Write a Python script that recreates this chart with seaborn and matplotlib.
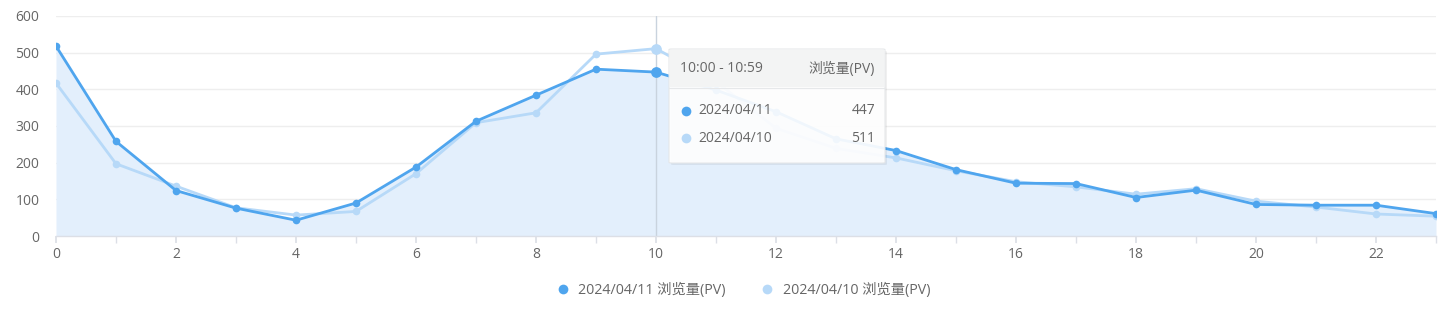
import numpy as np
import pandas as pd
import matplotlib
matplotlib.use("Agg")
import matplotlib.pyplot as plt
import seaborn as sns
from matplotlib.lines import Line2D
from matplotlib.patches import FancyBboxPatch, Rectangle

hours = list(range(24))
pv_0411 = [518, 258, 124, 76, 43, 90, 188, 313, 384, 455, 447, 398,
           339, 265, 233, 181, 144, 143, 105, 125, 86, 84, 84, 61]
pv_0410 = [417, 197, 136, 77, 57, 67, 170, 309, 336, 496, 511, 421,
           294, 239, 213, 178, 148, 134, 114, 129, 95, 79, 60, 54]
series_names = ["2024/04/11", "2024/04/10"]
metric = "浏览量(PV)"
hover_hour = 10
hover_label = "10:00 - 10:59"
y_ticks = [0, 100, 200, 300, 400, 500, 600]
x_ticks = list(range(0, 23, 2))

C1 = "#4fa5ee"
C2 = "#b7d9f8"
FILL = "#e3effc"
TXT = "#666666"
FS = 10

sns.set_theme(style="white")
plt.rcParams['font.family'] = ['Open Sans', 'Noto Sans CJK SC', 'DejaVu Sans']

df = pd.DataFrame({
    "hour": hours * 2,
    "pv": pv_0411 + pv_0410,
    "series": [series_names[0]] * 24 + [series_names[1]] * 24,
})

fig = plt.figure(figsize=(14.52, 3.11), dpi=100)
ax = fig.add_axes([56/1452, 1-236/311, (1436-56)/1452, 220/311])

ax.fill_between(hours, pv_0411, 0, color=FILL, zorder=1, linewidth=0)
# crosshair
ax.axvline(hover_hour, color="#c9d3de", lw=1, zorder=1.5)

sns.lineplot(data=df, x="hour", y="pv", hue="series",
             palette={series_names[0]: C1, series_names[1]: C2},
             hue_order=series_names[::-1], marker="o", markersize=5.5,
             markeredgewidth=0, linewidth=2, ax=ax, legend=False, zorder=3)
# highlighted hover points
ax.scatter([hover_hour], [pv_0410[hover_hour]], s=60, color=C2, zorder=4, linewidths=0)
ax.scatter([hover_hour], [pv_0411[hover_hour]], s=60, color=C1, zorder=4, linewidths=0)

ax.set_xlim(0, 23)
ax.set_ylim(0, 600)
ax.set_yticks(y_ticks)
ax.set_xticks(x_ticks)
ax.set_xticks(hours, minor=True)
ax.set_xlabel("")
ax.set_ylabel("")
ax.grid(axis="y", color="#eeeeee", lw=1)
ax.set_axisbelow(True)
for s in ["top", "right", "left"]:
    ax.spines[s].set_visible(False)
ax.spines["bottom"].set_color("#dcdfe6")
ax.spines["bottom"].set_linewidth(1)
ax.tick_params(axis="y", length=0, labelsize=FS, labelcolor=TXT, pad=12)
ax.tick_params(axis="x", which="both", length=5, color="#dcdfe6", labelsize=FS,
               labelcolor=TXT, pad=3, bottom=True)

# tooltip
W, H = 1452, 311
def fx(px): return px / W
def fy(py): return 1 - py / H
shadow = FancyBboxPatch((fx(671), fy(165)), fx(885-669), (163-49)/H,
                        boxstyle="round,pad=0,rounding_size=0.002",
                        transform=fig.transFigure, facecolor="#000000", alpha=0.06,
                        edgecolor="none", zorder=9)
fig.patches.append(shadow)
box = FancyBboxPatch((fx(669), fy(163)), fx(885-669), (163-49)/H,
                     boxstyle="round,pad=0,rounding_size=0.002",
                     transform=fig.transFigure, facecolor="white", alpha=0.92,
                     edgecolor="#e4e6e8", lw=0.8, zorder=10)
fig.patches.append(box)
hdr = Rectangle((fx(670), fy(87)), fx(884-670), (87-50)/H, transform=fig.transFigure,
                facecolor="#f3f4f4", edgecolor="none", zorder=11)
fig.patches.append(hdr)
fig.add_artist(Line2D([fx(669), fx(885)], [fy(87.5), fy(87.5)], transform=fig.transFigure,
                      color="#e6e8ea", lw=0.8, zorder=12))
fig.text(fx(680), fy(69), hover_label, ha="left", va="center", fontsize=FS,
         color=TXT, zorder=13)
fig.text(fx(875), fy(69), metric, ha="right", va="center", fontsize=FS,
         color=TXT, zorder=13)
rows = [(series_names[0], pv_0411[hover_hour], C1, 111),
        (series_names[1], pv_0410[hover_hour], C2, 138)]
for name, val, col, py in rows:
    fig.add_artist(Line2D([fx(686)], [fy(py)], transform=fig.transFigure, marker="o",
                          markersize=7, color=col, markeredgewidth=0, zorder=13))
    fig.text(fx(698), fy(py), name, ha="left", va="center", fontsize=FS,
             color=TXT, zorder=13)
    fig.text(fx(875), fy(py), str(val), ha="right", va="center", fontsize=FS,
             color=TXT, zorder=13)

# legend
handles = [Line2D([], [], marker="o", linestyle="none", markersize=7,
                  markeredgewidth=0, color=c) for c in (C1, C2)]
labels = [f"{n} {metric}" for n in series_names]
fig.legend(handles, labels, loc="center", bbox_to_anchor=(fx(743), fy(290)),
           ncol=2, frameon=False, fontsize=10.3, labelcolor=TXT,
           handletextpad=0.6, columnspacing=2.4, handlelength=1.0)

fig.savefig("out.png", dpi=100)
